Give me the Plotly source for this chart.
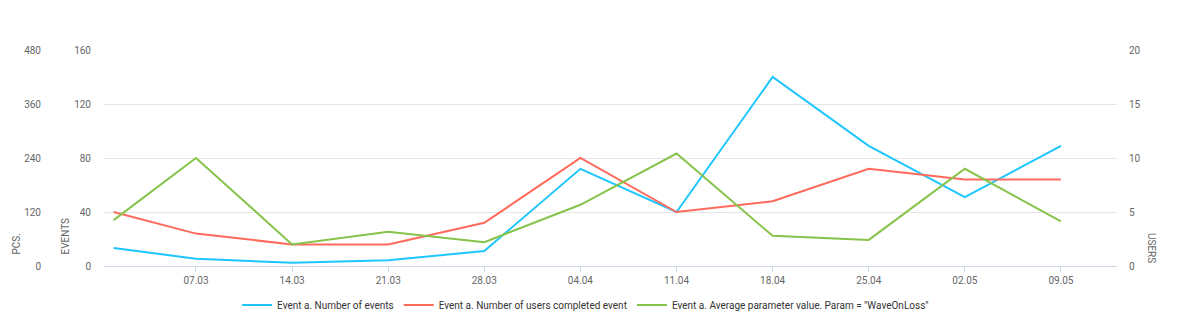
import plotly.graph_objects as go

dates = ["2021-03-01", "2021-03-07", "2021-03-14", "2021-03-21", "2021-03-28",
         "2021-04-04", "2021-04-11", "2021-04-18", "2021-04-25", "2021-05-02", "2021-05-09"]
events = [13.3, 5.4, 2.4, 4.2, 11.1, 72, 40, 140, 89, 51, 89]
users = [5, 3, 2, 2, 4, 10, 5, 6, 9, 8, 8]
avg_param = [102, 240, 48, 76, 53, 136, 250, 67, 58, 216, 99]

names = ["Event a. Number of events",
         "Event a. Number of users completed event",
         'Event a. Average parameter value. Param = "WaveOnLoss"']
colors = ["#1EC6FF", "#FF6A5C", "#86C34A"]

FONT = "Roboto"
GRAY = "#666666"

fig = go.Figure()
fig.add_trace(go.Scatter(x=dates, y=events, name=names[0], mode="lines",
                         line=dict(color=colors[0], width=2), yaxis="y"))
fig.add_trace(go.Scatter(x=dates, y=users, name=names[1], mode="lines",
                         line=dict(color=colors[1], width=2), yaxis="y2"))
fig.add_trace(go.Scatter(x=dates, y=avg_param, name=names[2], mode="lines",
                         line=dict(color=colors[2], width=2), yaxis="y3"))

L, R, T, B = 104, 66, 50, 69
W, H = 1183, 335
pw = W - L - R
ph = H - T - B

def px_x(p):
    return (p - L) / pw

def px_y(p):
    return (H - B - p) / ph

fig.update_layout(
    width=W, height=H,
    margin=dict(l=L, r=R, t=T, b=B, pad=0, autoexpand=False),
    paper_bgcolor="white", plot_bgcolor="white",
    font=dict(family=FONT, size=10, color=GRAY),
    showlegend=True,
    legend=dict(orientation="h", xref="container", x=0.495, xanchor="center",
                yref="container", y=1 - 305 / H, yanchor="middle",
                font=dict(family=FONT, size=10, color="#333333"),
                itemwidth=30, tracegroupgap=0),
    xaxis=dict(
        type="date",
        range=["2021-02-28 07:12", "2021-05-13 02:00"],
        tick0="2021-03-07", dtick=7 * 24 * 3600 * 1000,
        tickformat="%d.%m",
        showgrid=False, zeroline=False,
        showline=True, linecolor="#ccd6eb", linewidth=1,
        ticks="outside", ticklen=5, tickcolor="#ccd6eb",
        tickfont=dict(family=FONT, size=10, color=GRAY),
        automargin=False,
    ),
    yaxis=dict(
        range=[0, 160], tickvals=[0, 40, 80, 120, 160],
        showgrid=True, gridcolor="#e6e6e6", gridwidth=1,
        zeroline=False, showline=False, ticks="",
        ticklabelstandoff=12, automargin=False,
        tickfont=dict(family=FONT, size=10, color=GRAY),
    ),
    yaxis2=dict(
        range=[0, 20], tickvals=[0, 5, 10, 15, 20],
        overlaying="y", side="right", anchor="x",
        showgrid=False, zeroline=False, showline=False, ticks="",
        ticklabelstandoff=11, automargin=False,
        tickfont=dict(family=FONT, size=10, color=GRAY),
    ),
    yaxis3=dict(
        range=[0, 480], tickvals=[0, 120, 240, 360, 480],
        overlaying="y", side="left", anchor="free", position=0,
        showgrid=False, zeroline=False, showline=False, ticks="",
        ticklabelstandoff=63, automargin=False,
        tickfont=dict(family=FONT, size=10, color=GRAY),
    ),
)

titles = [("PCS.", 16, 257, -90), ("EVENTS", 65, 257, -90), ("USERS", 1152, 265, 90)]
for text, xp, yp, ang in titles:
    fig.add_annotation(text=text, xref="paper", yref="paper",
                       x=px_x(xp), y=px_y(yp), xanchor="center", yanchor="bottom",
                       textangle=ang, showarrow=False,
                       font=dict(family=FONT, size=10, color=GRAY))

fig.write_html("out.html")
